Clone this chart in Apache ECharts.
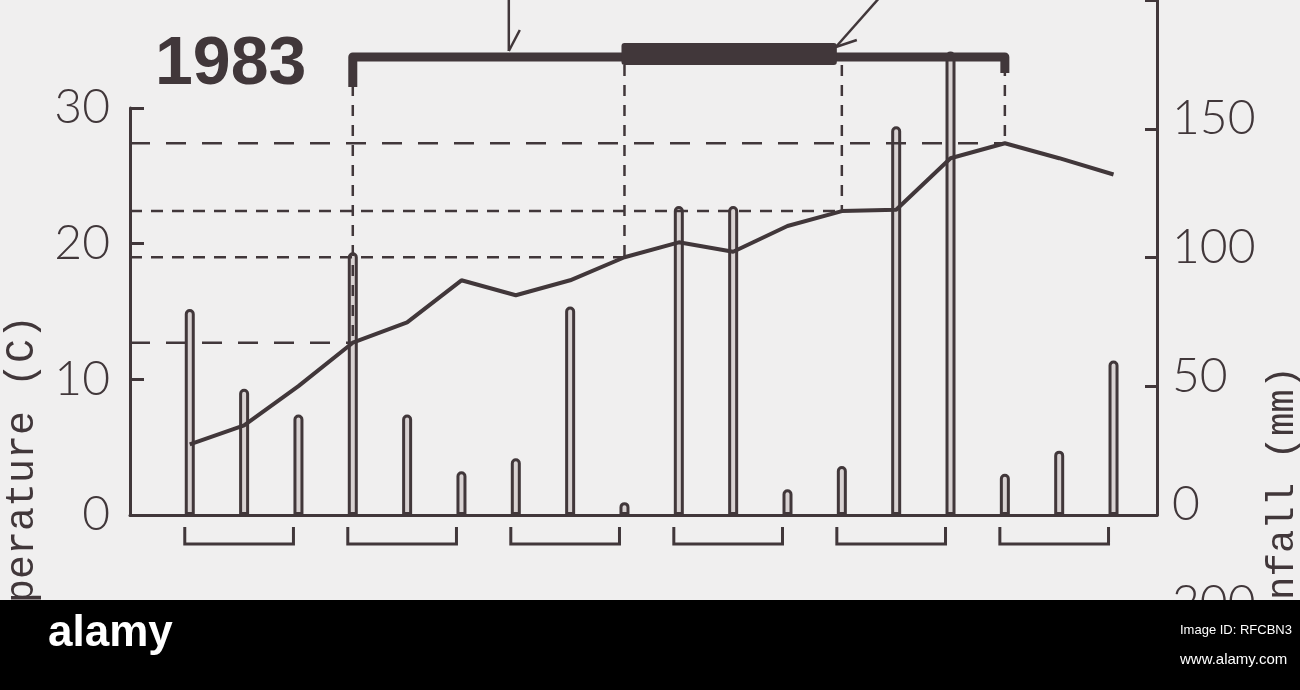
<!DOCTYPE html>
<html><head><meta charset="utf-8">
<script src="https://cdn.jsdelivr.net/npm/echarts@6/dist/echarts.min.js"></script>
<style>html,body{margin:0;padding:0;background:#f0efef;}#c{width:1300px;height:690px;}</style>
</head><body><div id="c"></div>
<script>
// ten-day periods (3 per month, 6 months)
const periods = [1,2,3,4,5,6,7,8,9,10,11,12,13,14,15,16,17,18];
const rainfall = [80,49,39,102,39,17,22,81,5,120,120,10,19,151,180,16,25,60];
const temperature = [5.2,6.6,9.5,12.7,14.2,17.3,16.2,17.3,19.0,20.1,19.4,21.3,22.4,22.5,26.3,27.4,26.3,25.1];
const tempTicks = [0,10,20,30];
const rainTicks = [0,50,100,150];
const monthGroups = [[1,3],[4,6],[7,9],[10,12],[13,15],[16,18]];
const stagePeriods = [4,9,13,16];
const yearLabel = '1983';

const INK = '#41373a';
const X_MIN = -0.1, X_MAX = 18.8;
const chart = echarts.init(document.getElementById('c'));

const rainData = periods.map((p,i)=>[p, rainfall[i]]);
const tempData = periods.map((p,i)=>[p, temperature[i]]);
const stageData = stagePeriods.map((p,i)=>[p, temperature[periods.indexOf(p)], i]);

const labelFont = {fontFamily:'Lato, "Open Sans", sans-serif', fontWeight:300, fontSize:48, color:INK};

chart.setOption({
  backgroundColor:'#f0efef',
  animation:false,
  grid:[
    {left:130,right:143,top:108,bottom:175},
    {left:130,right:143,top:-8,bottom:175}
  ],
  xAxis:[
    {gridIndex:0,type:'value',min:X_MIN,max:X_MAX,axisLine:{show:true,onZero:false,lineStyle:{color:INK,width:3}},axisTick:{show:false},axisLabel:{show:false},splitLine:{show:false}},
    {gridIndex:1,type:'value',min:X_MIN,max:X_MAX,show:false,axisLine:{onZero:false},splitLine:{show:false}}
  ],
  yAxis:[
    {gridIndex:0,type:'value',position:'left',min:tempTicks[0],max:tempTicks[tempTicks.length-1],interval:10,
     axisLine:{show:true,onZero:false,lineStyle:{color:INK,width:3}},
     axisTick:{show:true,inside:true,length:14,lineStyle:{color:INK,width:3}},
     axisLabel:Object.assign({margin:20},labelFont),splitLine:{show:false}},
    {gridIndex:1,type:'value',position:'right',min:0,max:200,interval:50,
     axisLine:{show:true,onZero:false,lineStyle:{color:INK,width:3}},
     axisTick:{show:true,inside:true,length:12,lineStyle:{color:INK,width:3}},
     axisLabel:Object.assign({margin:15,verticalAlign:'bottom',lineHeight:20,formatter:v=>rainTicks.indexOf(v)>=0?String(v):''},labelFont),
     splitLine:{show:false}}
  ],
  series:[
    {type:'bar',xAxisIndex:1,yAxisIndex:1,data:rainData,barWidth:10,
     itemStyle:{color:'#d8d2d2',borderColor:INK,borderWidth:3,borderRadius:[4,4,0,0]},z:2},
    {type:'line',xAxisIndex:0,yAxisIndex:0,data:tempData,symbol:'none',
     lineStyle:{color:INK,width:4},z:4},
    // month brackets
    {type:'custom',xAxisIndex:0,yAxisIndex:0,clip:false,data:monthGroups,z:3,
     renderItem:(params,api)=>{
       const a=api.coord([api.value(0),0]), b=api.coord([api.value(1),0]);
       const x1=a[0]-5, x2=b[0]-5, y=a[1];
       return {type:'polyline',shape:{points:[[x1,y+12],[x1,y+29],[x2,y+29],[x2,y+12]]},
               style:{stroke:INK,lineWidth:3,fill:null}};
     }},
    // stage markers: dashed lines
    {type:'custom',xAxisIndex:0,yAxisIndex:0,clip:false,data:stageData,z:3,
     renderItem:(params,api)=>{
       const p=api.coord([api.value(0),api.value(1)]);
       const l=api.coord([X_MIN,api.value(1)]);
       const top=api.coord([0,30])[1]-51;
       const idx=api.value(2);
       const longDash=(idx===0||idx===3);
       return {type:'group',children:[
         {type:'line',shape:{x1:l[0],y1:l[1],x2:p[0],y2:p[1]},
          style:{stroke:INK,lineWidth:2.5,lineDash:longDash?[20,16]:[12,9]}},
         {type:'line',shape:{x1:p[0],y1:top+8,x2:p[0],y2:p[1]},
          style:{stroke:INK,lineWidth:2.5,lineDash:[11,9]}}
       ]};
     }},
    // top stage bar with arrows
    {type:'custom',xAxisIndex:0,yAxisIndex:0,clip:false,data:[[stagePeriods[0],stagePeriods[3],stagePeriods[1],stagePeriods[2]]],z:5,
     renderItem:(params,api)=>{
       const top=api.coord([0,30])[1]-51;
       const xs=api.coord([api.value(0),0])[0], xe=api.coord([api.value(1),0])[0];
       const ts=api.coord([api.value(2),0])[0]-3, te=api.coord([api.value(3),0])[0]-5;
       const a1=api.coord([7,0])[0]-7, a2=api.coord([api.value(3),0])[0]-6;
       return {type:'group',children:[
         {type:'polyline',shape:{points:[[xs,top+30],[xs,top],[xe,top],[xe,top+16]]},
          style:{stroke:INK,lineWidth:9,fill:null,lineJoin:'round'}},
         {type:'rect',shape:{x:ts,y:top-14,width:te-ts,height:22,r:3},style:{fill:INK}},
         {type:'polyline',shape:{points:[[a1,-5],[a1,top-6]]},style:{stroke:INK,lineWidth:2.5,fill:null}},
         {type:'line',shape:{x1:a1,y1:top-6,x2:a1+11,y2:top-27},style:{stroke:INK,lineWidth:2.5}},
         {type:'line',shape:{x1:a2+46,y1:-5,x2:a2,y2:top-10},style:{stroke:INK,lineWidth:2.5}},
         {type:'line',shape:{x1:a2,y1:top-10,x2:a2+21,y2:top-17},style:{stroke:INK,lineWidth:2.5}}
       ]};
     }}
  ],
  graphic:[
    {type:'text',left:155,top:31,style:{text:yearLabel,font:'bold 68px "Liberation Sans", Arial, sans-serif',fill:INK}},
    {type:'text',x:22,y:495,rotation:Math.PI/2,style:{text:'Temperature (C)',font:'40px "Liberation Mono", monospace',fill:INK,align:'center',verticalAlign:'middle'}},
    {type:'text',x:1283,y:518,rotation:Math.PI/2,style:{text:'Rainfall (mm)',font:'39px "Liberation Mono", monospace',fill:INK,align:'center',verticalAlign:'middle'}},
    {type:'text',x:1172,y:604,style:{text:'200',font:'300 48px Lato, sans-serif',fill:INK,verticalAlign:'middle'}},
    {type:'rect',left:0,top:600,shape:{width:1300,height:90},style:{fill:'#000'},z:100},
    {type:'text',left:48,top:612,z:101,style:{text:'alamy',font:'bold 44px "Liberation Sans", sans-serif',fill:'#fff'}},
    {type:'text',left:1180,top:624,z:101,style:{text:'Image ID: RFCBN3',font:'13px "Liberation Sans", sans-serif',fill:'#fff'}},
    {type:'text',left:1180,top:652,z:101,style:{text:'www.alamy.com',font:'15px "Liberation Sans", sans-serif',fill:'#fff'}}
  ]
});
</script></body></html>
